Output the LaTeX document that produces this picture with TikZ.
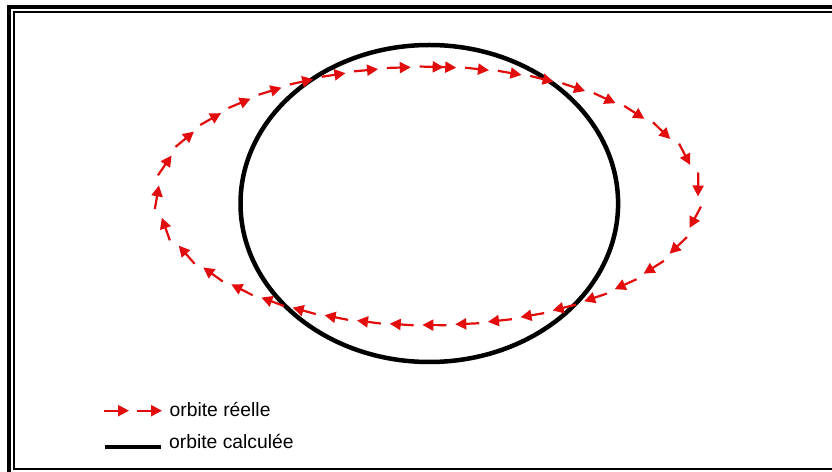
\documentclass[tikz,border=0pt]{standalone}
\usepackage{fontspec}
\setmainfont{Liberation Sans}
\usetikzlibrary{arrows.meta,decorations.markings}
\definecolor{orbred}{RGB}{226,12,12}
\tikzset{
  orbarrow/.style={draw=orbred, line width=2.2pt, -{Triangle[length=11pt,width=11pt]}},
  calcline/.style={draw=black, line width=4.5pt},
  legendtext/.style={anchor=base west, inner sep=0pt, font=\fontsize{19.3}{22}\selectfont}
}
\begin{document}
\begin{tikzpicture}[x=1pt,y=1pt]
\useasboundingbox (0,0) rectangle (832,471);
\fill[white] (0,0) rectangle (832,471);
\clip (0,0) rectangle (832,471);
% frame
\draw[line width=4pt] (9,-20) -- (9,464) -- (850,464);
\draw[line width=2pt] (850,2) -- (14,2) -- (14,459.3) -- (850,459.3);
% computed orbit
\draw[calcline] (429.3,267.5) ellipse [x radius=188.8pt, y radius=158.5pt];
% real orbit (arrows)
\path[decorate, decoration={markings,
   mark=between positions 0 and 0.995 step 0.025385 with {\draw[orbarrow] (-24pt,0pt) -- (0pt,0pt);}}]
  ([shift={(428,275)}]84:270pt and 129pt)
  arc[start angle=84, end angle=-276, x radius=270pt, y radius=129pt];
% legend
\coordinate (r1a) at (104,60.3);
\coordinate (r1b) at (129,60.3);
\coordinate (r2a) at (137,60.3);
\coordinate (r2b) at (162,60.3);
\draw[orbarrow] (r1a) -- (r1b);
\draw[orbarrow] (r2a) -- (r2b);
\node[legendtext] (lreal) at (169.5,54.3) {orbite réelle};
\coordinate (k1) at (105,24.3);
\coordinate (k2) at (161,24.3);
\draw[line width=4pt] (k1) -- (k2);
\node[legendtext] (lcalc) at (169,22.7) {orbite calculée};
\end{tikzpicture}
\end{document}
